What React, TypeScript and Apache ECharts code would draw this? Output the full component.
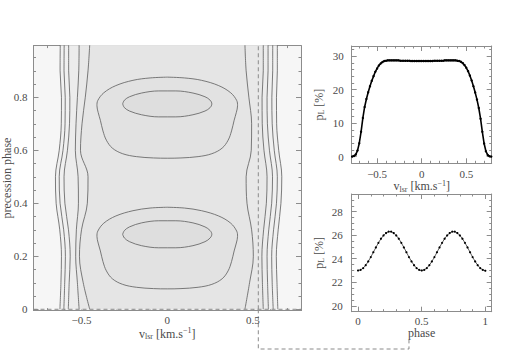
import React, { useEffect, useRef } from "react";
import * as echarts from "echarts";

const FONT = "'Liberation Serif', 'DejaVu Serif', serif";
const TEXT = "#4a4a4a";
const FRAME = "#8c8c8c";
const CONTOUR = "#5c5c5c";

// ---------- Left panel: contour map (v_lsr vs precession phase) ----------
const contourPhases = [0, 0.1, 0.2, 0.3, 0.4, 0.5, 0.6, 0.7, 0.8, 0.9, 1.0];
const leftLine1 = [-0.626, -0.62, -0.617, -0.627, -0.648, -0.652, -0.63, -0.618, -0.617, -0.625, -0.624];
const leftLine2 = [-0.603, -0.598, -0.594, -0.604, -0.625, -0.63, -0.608, -0.596, -0.595, -0.602, -0.601];
const leftLine3 = [-0.577, -0.572, -0.566, -0.576, -0.597, -0.602, -0.582, -0.57, -0.568, -0.575, -0.575];
const leftLine4 = [-0.514, -0.524, -0.534, -0.53, -0.518, -0.52, -0.536, -0.532, -0.524, -0.516, -0.514];
const leftLine5 = [-0.452, -0.49, -0.512, -0.5, -0.466, -0.462, -0.506, -0.497, -0.478, -0.462, -0.452];
const rightLine1 = [0.453, 0.48, 0.502, 0.492, 0.465, 0.46, 0.49, 0.492, 0.476, 0.46, 0.453];
const rightLine2 = [0.56, 0.555, 0.552, 0.562, 0.578, 0.582, 0.564, 0.554, 0.553, 0.56, 0.56];
const rightLine3 = [0.59, 0.585, 0.582, 0.592, 0.609, 0.614, 0.596, 0.584, 0.582, 0.588, 0.588];
const rightLine4 = [0.618, 0.612, 0.609, 0.62, 0.637, 0.642, 0.624, 0.612, 0.61, 0.615, 0.615];
const rightLine5 = [0.645, 0.64, 0.636, 0.647, 0.663, 0.668, 0.65, 0.638, 0.637, 0.642, 0.642];

const lowerOuterContour = [
  [0, 0.385], [-0.1, 0.382], [-0.2, 0.372], [-0.3, 0.352], [-0.37, 0.325], [-0.405, 0.295],
  [-0.41, 0.275], [-0.403, 0.25], [-0.39, 0.22], [-0.375, 0.18], [-0.355, 0.145], [-0.32, 0.115],
  [-0.26, 0.094], [-0.18, 0.083], [-0.08, 0.078], [0, 0.077], [0.08, 0.078], [0.18, 0.083],
  [0.26, 0.094], [0.32, 0.115], [0.355, 0.145], [0.375, 0.18], [0.39, 0.22], [0.403, 0.25],
  [0.41, 0.275], [0.405, 0.295], [0.37, 0.325], [0.3, 0.352], [0.2, 0.372], [0.1, 0.382], [0, 0.385],
];
const upperOuterContour = [
  [0, 0.876], [-0.1, 0.873], [-0.2, 0.864], [-0.3, 0.844], [-0.37, 0.817], [-0.405, 0.788],
  [-0.41, 0.768], [-0.403, 0.743], [-0.39, 0.713], [-0.375, 0.673], [-0.355, 0.638], [-0.32, 0.608],
  [-0.26, 0.587], [-0.18, 0.576], [-0.08, 0.571], [0, 0.57], [0.08, 0.571], [0.18, 0.576],
  [0.26, 0.587], [0.32, 0.608], [0.355, 0.638], [0.375, 0.673], [0.39, 0.713], [0.403, 0.743],
  [0.41, 0.768], [0.405, 0.788], [0.37, 0.817], [0.3, 0.844], [0.2, 0.864], [0.1, 0.873], [0, 0.876],
];
const lowerInnerContour = [
  [-0.26, 0.283], [-0.25, 0.297], [-0.22, 0.311], [-0.15, 0.326], [-0.05, 0.334], [0.05, 0.334],
  [0.15, 0.326], [0.22, 0.311], [0.25, 0.297], [0.26, 0.283], [0.25, 0.269], [0.22, 0.255],
  [0.15, 0.24], [0.05, 0.232], [-0.05, 0.232], [-0.15, 0.24], [-0.22, 0.255], [-0.25, 0.269], [-0.26, 0.283],
];
const upperInnerContour = [
  [-0.26, 0.775], [-0.25, 0.789], [-0.22, 0.802], [-0.15, 0.816], [-0.05, 0.824], [0.05, 0.824],
  [0.15, 0.816], [0.22, 0.802], [0.25, 0.789], [0.26, 0.775], [0.25, 0.761], [0.22, 0.748],
  [0.15, 0.734], [0.05, 0.726], [-0.05, 0.726], [-0.15, 0.734], [-0.22, 0.748], [-0.25, 0.761], [-0.26, 0.775],
];
const cutVelocity = 0.531;
const cutPhase = 0;
const connectorPhase = 0.4;

// ---------- Top right: p_L profile at phase 0 ----------
const profileV = [
  -0.78, -0.76, -0.74, -0.72, -0.7, -0.68, -0.66, -0.64, -0.62, -0.6, -0.58, -0.56, -0.54, -0.52,
  -0.5, -0.48, -0.46, -0.44, -0.42, -0.4, -0.38, -0.36, -0.34, -0.32, -0.3, -0.28, -0.26, -0.24,
  -0.22, -0.2, -0.18, -0.16, -0.14, -0.12, -0.1, -0.08, -0.06, -0.04, -0.02, 0, 0.02, 0.04, 0.06,
  0.08, 0.1, 0.12, 0.14, 0.16, 0.18, 0.2, 0.22, 0.24, 0.26, 0.28, 0.3, 0.32, 0.34, 0.36, 0.38,
  0.4, 0.42, 0.44, 0.46, 0.48, 0.5, 0.52, 0.54, 0.56, 0.58, 0.6, 0.62, 0.64, 0.66, 0.68, 0.7,
  0.72, 0.74, 0.76, 0.78,
];
const profileP = [
  0.0, 0.2, 0.6, 1.8, 4.0, 7.4, 11.5, 14.8, 17.2, 19.2, 21.0, 22.6, 24.0, 25.3,
  26.3, 27.2, 27.8, 28.2, 28.5, 28.6, 28.7, 28.7, 28.7, 28.7, 28.7, 28.7, 28.7, 28.6,
  28.6, 28.6, 28.6, 28.6, 28.6, 28.5, 28.5, 28.5, 28.5, 28.5, 28.5, 28.5, 28.5, 28.5, 28.5,
  28.5, 28.5, 28.5, 28.6, 28.6, 28.6, 28.6, 28.6, 28.6, 28.7, 28.7, 28.7, 28.7, 28.7, 28.7, 28.7,
  28.6, 28.5, 28.3, 27.9, 27.3, 26.5, 25.5, 24.2, 22.7, 21.0, 19.1, 17.0, 14.5, 11.3, 7.4, 3.9,
  1.6, 0.5, 0.1, 0.0,
];

// ---------- Bottom right: p_L vs phase at the cut velocity ----------
const phaseValues = [
  0, 0.02, 0.04, 0.06, 0.08, 0.1, 0.12, 0.14, 0.16, 0.18, 0.2, 0.22, 0.24, 0.26, 0.28, 0.3, 0.32,
  0.34, 0.36, 0.38, 0.4, 0.42, 0.44, 0.46, 0.48, 0.5, 0.52, 0.54, 0.56, 0.58, 0.6, 0.62, 0.64, 0.66,
  0.68, 0.7, 0.72, 0.74, 0.76, 0.78, 0.8, 0.82, 0.84, 0.86, 0.88, 0.9, 0.92, 0.94, 0.96, 0.98, 1,
];
const phaseP = [
  23.0, 23.05, 23.2, 23.45, 23.77, 24.14, 24.55, 24.96, 25.35, 25.7, 25.98, 26.18, 26.3, 26.3, 26.18,
  25.98, 25.7, 25.35, 24.96, 24.55, 24.14, 23.77, 23.45, 23.2, 23.05, 23.0, 23.05, 23.2, 23.45, 23.77,
  24.14, 24.55, 24.96, 25.35, 25.7, 25.98, 26.18, 26.3, 26.3, 26.18, 25.98, 25.7, 25.35, 24.96, 24.55,
  24.14, 23.77, 23.45, 23.2, 23.05, 22.98,
];

// ---------- Tick values ----------
const mapXMajor = [-0.5, 0, 0.5];
const mapXMinor = [-0.7, -0.6, -0.4, -0.3, -0.2, -0.1, 0.1, 0.2, 0.3, 0.4, 0.6, 0.7];
const mapYMajor = [0, 0.2, 0.4, 0.6, 0.8];
const mapYMinor = [0.05, 0.1, 0.15, 0.25, 0.3, 0.35, 0.45, 0.5, 0.55, 0.65, 0.7, 0.75, 0.85, 0.9, 0.95];
const profXMajor = [-0.5, 0, 0.5];
const profXMinor = [-0.7, -0.6, -0.4, -0.3, -0.2, -0.1, 0.1, 0.2, 0.3, 0.4, 0.6, 0.7];
const profYMajor = [0, 10, 20, 30];
const profYMinor = [2, 4, 6, 8, 12, 14, 16, 18, 22, 24, 26, 28, 32];
const phaseXMajor = [0, 0.5, 1];
const phaseXMinor = [0.1, 0.2, 0.3, 0.4, 0.6, 0.7, 0.8, 0.9];
const phaseYMajor = [20, 22, 24, 26, 28];
const phaseYMinor = [20.5, 21, 21.5, 22.5, 23, 23.5, 24.5, 25, 25.5, 26.5, 27, 27.5, 28.5, 29];

const fmtNum = (v: number) => (v < 0 ? "\u2212" + String(-v) : String(v));

const richName = {
  m: { fontFamily: FONT, fontSize: 12, lineHeight: 14, color: TEXT },
  t: { fontFamily: FONT, fontSize: 12, lineHeight: 12, color: TEXT },
  s: { fontFamily: FONT, fontSize: 8, lineHeight: 8, color: TEXT, verticalAlign: "bottom" },
  p: { fontFamily: FONT, fontSize: 8, lineHeight: 8, color: TEXT, verticalAlign: "top" },
};

function buildAxes(
  dir: "x" | "y",
  gridIndex: number,
  min: number,
  max: number,
  major: number[],
  minor: number[],
  labelMargin: number,
  name: string,
  nameGap: number
) {
  const isX = dir === "x";
  const base: any = {
    type: "value",
    gridIndex,
    min,
    max,
    splitLine: { show: false },
    axisLine: { show: false, onZero: false },
    axisLabel: { show: false },
    axisTick: { show: false },
  };
  const lineOn = { show: true, onZero: false, lineStyle: { color: FRAME, width: 1 } };
  const majTick = { show: true, inside: true, length: 5, customValues: major, lineStyle: { color: FRAME } };
  const minTick = { show: true, inside: true, length: 2.5, customValues: minor, lineStyle: { color: FRAME } };
  const p1 = isX ? "bottom" : "left";
  const p2 = isX ? "top" : "right";
  return [
    {
      ...base,
      position: p1,
      axisLine: lineOn,
      axisTick: majTick,
      axisLabel: {
        show: true,
        customValues: major,
        formatter: fmtNum,
        margin: labelMargin,
        color: TEXT,
        fontFamily: FONT,
        fontSize: 11,
        lineHeight: 11,
      },
      name,
      nameLocation: "middle",
      nameGap,
      nameMoveOverlap: false,
      nameRotate: isX ? 0 : 90,
      nameTextStyle: { fontFamily: FONT, fontSize: 12, color: TEXT, rich: richName },
    },
    { ...base, position: p1, axisTick: minTick },
    { ...base, position: p2, axisLine: lineOn, axisTick: majTick },
    { ...base, position: p2, axisTick: minTick },
  ];
}

const toPairs = (vs: number[]) => contourPhases.map((p, i) => [vs[i], p]);
const band = (a: number[], b: number[]) => [...toPairs(a), ...toPairs(b).reverse()];

export default function App() {
  const ref = useRef<HTMLDivElement>(null);
  useEffect(() => {
    if (!ref.current) return;
    const chart = echarts.init(ref.current, undefined, { renderer: "svg" });

    const fills = [
      { pts: band(leftLine1, rightLine5), color: "#f0f0f0" },
      { pts: band(leftLine3, rightLine3), color: "#ececec" },
      { pts: band(leftLine4, rightLine2), color: "#e8e8e8" },
      { pts: band(leftLine5, rightLine1), color: "#e5e5e5" },
      { pts: lowerOuterContour, color: "#e2e2e2" },
      { pts: upperOuterContour, color: "#e2e2e2" },
      { pts: lowerInnerContour, color: "#dedede" },
      { pts: upperInnerContour, color: "#dedede" },
    ];

    const contourLines = [
      leftLine1, leftLine2, leftLine3, leftLine4, leftLine5,
      rightLine1, rightLine2, rightLine3, rightLine4, rightLine5,
    ].map((vs) => toPairs(vs));
    const closed = [lowerOuterContour, upperOuterContour, lowerInnerContour, upperInnerContour];

    const series: any[] = [];
    series.push({
      type: "custom",
      xAxisIndex: 0,
      yAxisIndex: 0,
      clip: true,
      silent: true,
      z: 1,
      data: fills.map((_, i) => [0, 0.5, i]),
      renderItem: (params: any, api: any) => {
        const f = fills[api.value(2)];
        return {
          type: "polygon",
          shape: { points: f.pts.map((p) => api.coord(p)) },
          style: { fill: f.color },
          silent: true,
        };
      },
    });
    [...contourLines, ...closed].forEach((d) =>
      series.push({
        type: "line",
        xAxisIndex: 0,
        yAxisIndex: 0,
        data: d,
        smooth: 0.35,
        symbol: "none",
        silent: true,
        z: 3,
        lineStyle: { color: CONTOUR, width: 0.8 },
      })
    );
    const cutSeriesIndex = series.length;
    series.push({
      type: "line",
      xAxisIndex: 0,
      yAxisIndex: 0,
      data: [[cutVelocity, 0], [cutVelocity, 1]],
      symbol: "none",
      silent: true,
      z: 4,
      lineStyle: { color: "#8a8a8a", width: 1, type: [4, 3] },
    });
    series.push({
      type: "line",
      xAxisIndex: 0,
      yAxisIndex: 0,
      data: [[-0.78, cutPhase], [0.78, cutPhase]],
      symbol: "none",
      silent: true,
      z: 4,
      lineStyle: { color: "#8a8a8a", width: 1, type: [4, 3] },
    });
    series.push({
      type: "line",
      xAxisIndex: 4,
      yAxisIndex: 4,
      data: profileV.map((v, i) => [v, profileP[i]]),
      symbol: "circle",
      symbolSize: 2.4,
      showAllSymbol: true,
      silent: true,
      itemStyle: { color: "#000" },
      lineStyle: { color: "#000", width: 1.6 },
    });
    const phaseSeriesIndex = series.length;
    series.push({
      type: "line",
      xAxisIndex: 8,
      yAxisIndex: 8,
      data: phaseValues.map((v, i) => [v, phaseP[i]]),
      symbol: "circle",
      symbolSize: 2.2,
      showAllSymbol: true,
      silent: true,
      itemStyle: { color: "#000" },
      lineStyle: { color: "#333", width: 0.8 },
    });

    const vName = "{m|v}{s|lsr}{m| [km.s}{p|\u22121}{m|]}";
    const pName = "{m|p}{s|L}{m| [%]}";

    const option: any = {
      animation: false,
      backgroundColor: "#ffffff",
      grid: [
        { left: 33.5, top: 45.6, width: 267.5, height: 265, show: true, backgroundColor: "#f6f6f6", borderWidth: 0, outerBoundsMode: "none", containLabel: false },
        { left: 351.7, top: 46, width: 140, height: 117.3, outerBoundsMode: "none", containLabel: false },
        { left: 351.7, top: 194, width: 140, height: 117.7, outerBoundsMode: "none", containLabel: false },
      ],
      xAxis: [
        ...buildAxes("x", 0, -0.78, 0.78, mapXMajor, mapXMinor, 4, vName, 16),
        ...buildAxes("x", 1, -0.785, 0.785, profXMajor, profXMinor, 5, vName, 16),
        ...buildAxes("x", 2, -0.05, 1.05, phaseXMajor, phaseXMinor, 4, "{m|phase}", 14),
      ],
      yAxis: [
        ...buildAxes("y", 0, -0.005, 0.995, mapYMajor, mapYMinor, 6, "{t|precession phase}", 21),
        ...buildAxes("y", 1, -2, 33, profYMajor, profYMinor, 8, pName, 26),
        ...buildAxes("y", 2, 19.5, 29.5, phaseYMajor, phaseYMinor, 9, pName, 26),
      ],
      series,
    };
    chart.setOption(option);

    const start = chart.convertToPixel({ seriesIndex: cutSeriesIndex }, [cutVelocity, cutPhase]) as number[];
    const end = chart.convertToPixel({ seriesIndex: phaseSeriesIndex }, [connectorPhase, 20]) as number[];
    if (start && end) {
      const bottomY = 349;
      chart.setOption({
        graphic: [
          {
            type: "polyline",
            silent: true,
            shape: { points: [[start[0], start[1]], [start[0], bottomY], [end[0], bottomY], [end[0], bottomY - 9]] },
            style: { stroke: "#8a8a8a", lineWidth: 1, lineDash: [4, 3], fill: null },
          },
        ],
      });
    }

    return () => chart.dispose();
  }, []);

  return (
    <div
      ref={ref}
      style={{ position: "absolute", left: 0, top: 0, width: 506, height: 354, background: "#fff" }}
    />
  );
}
